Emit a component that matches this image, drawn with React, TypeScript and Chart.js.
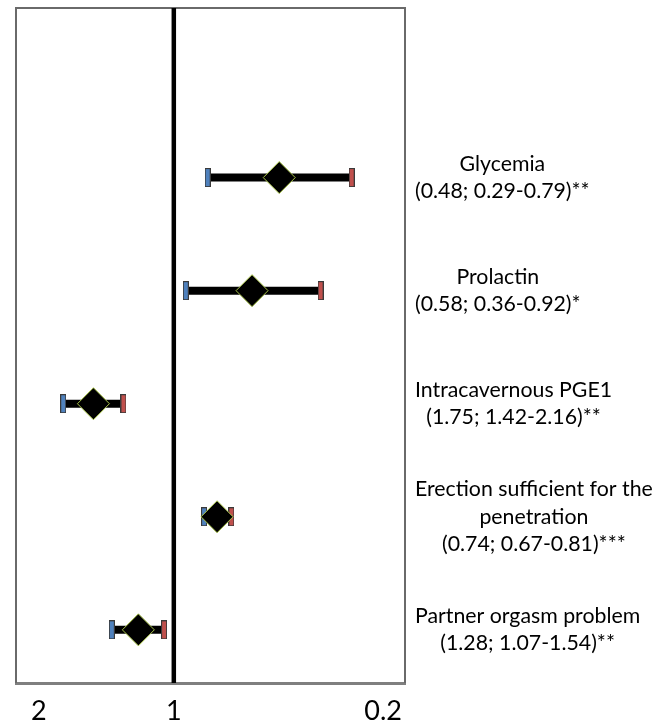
import { useEffect, useRef } from "react";
import { Chart, registerables } from "chart.js";

Chart.register(...registerables);

// ---- data ----
const nameLines: string[][] = [
  ["Glycemia"],
  ["Prolactin"],
  ["Intracavernous PGE1"],
  ["Erection sufficient for the", "penetration"],
  ["Partner orgasm problem"],
];
const oddsRatios = [0.48, 0.58, 1.75, 0.74, 1.28];
const lowerCI = [0.29, 0.36, 1.42, 0.67, 1.07];
const upperCI = [0.79, 0.92, 2.16, 0.81, 1.54];
const significance = ["**", "*", "**", "***", "**"];
const rowPositions = [5, 4, 3, 2, 1];
const xTickValues = [2.56, 1, 0.233];
const xTickLabels = ["2", "1", "0.2"];
const referenceValue = 1;

const X_MIN = 0.2;
const X_MAX = 3.0;
const Y_MIN = 0.53;
const Y_MAX = 6.5;

function makeCap(fill: string): HTMLCanvasElement {
  const c = document.createElement("canvas");
  c.width = 6;
  c.height = 19;
  const g = c.getContext("2d")!;
  g.fillStyle = "#3a3a3a";
  g.fillRect(0, 0, 6, 19);
  g.fillStyle = fill;
  g.fillRect(1, 1, 4, 17);
  return c;
}

const fmt = (v: number) => v.toFixed(2);

const framePlugin = {
  id: "frameAndLabels",
  beforeDatasetsDraw(chart: any) {
    const { ctx, chartArea } = chart;
    const { left, top, right, bottom } = chartArea;
    ctx.save();
    ctx.strokeStyle = "#6a6a6a";
    ctx.lineWidth = 2;
    ctx.beginPath();
    ctx.moveTo(left, bottom);
    ctx.lineTo(left, top);
    ctx.lineTo(right, top);
    ctx.lineTo(right, bottom);
    ctx.stroke();
    ctx.restore();
  },
  afterDraw(chart: any) {
    const { ctx, chartArea } = chart;
    const yScale = chart.scales.y;
    ctx.save();
    ctx.font = '21.3px "Lato"';
    ctx.fillStyle = "#000";
    ctx.textBaseline = "middle";
    ctx.textAlign = "center";
    const lh = 27.5;
    const x0 = chartArea.right + 10;
    nameLines.forEach((names, i) => {
      const lines = [
        ...names,
        `(${fmt(oddsRatios[i])}; ${fmt(lowerCI[i])}-${fmt(upperCI[i])})${significance[i]}`,
      ];
      const w = Math.max(...lines.map((l) => ctx.measureText(l).width));
      const cy = yScale.getPixelForValue(rowPositions[i]);
      const startY = cy - ((lines.length - 1) / 2) * lh;
      lines.forEach((l, j) => {
        ctx.fillText(l, x0 + w / 2, startY + j * lh);
      });
    });
    ctx.restore();
  },
};

export default function App() {
  const ref = useRef<HTMLCanvasElement | null>(null);

  useEffect(() => {
    if (!ref.current) return;
    const blueCap = makeCap("#4f81bd");
    const redCap = makeCap("#c0504d");

    const barSets = oddsRatios.map((_, i) => ({
      type: "scatter" as const,
      data: [
        { x: lowerCI[i], y: rowPositions[i] },
        { x: upperCI[i], y: rowPositions[i] },
      ],
      showLine: true,
      borderColor: "#000",
      borderWidth: 8,
      pointRadius: 0,
      order: 3,
    }));

    const chart = new Chart(ref.current, {
      type: "scatter",
      data: {
        datasets: [
          {
            data: oddsRatios.map((v, i) => ({ x: v, y: rowPositions[i] })),
            pointStyle: "rectRot",
            pointRadius: 16,
            backgroundColor: "#000",
            borderColor: "#a9c44a",
            borderWidth: 1,
            order: 1,
          },
          {
            data: upperCI.map((v, i) => ({ x: v, y: rowPositions[i] })),
            pointStyle: blueCap as any,
            order: 2,
          },
          {
            data: lowerCI.map((v, i) => ({ x: v, y: rowPositions[i] })),
            pointStyle: redCap as any,
            order: 2,
          },
          ...barSets,
          {
            data: [
              { x: referenceValue, y: Y_MIN },
              { x: referenceValue, y: Y_MAX },
            ],
            showLine: true,
            borderColor: "#000",
            borderWidth: 4.5,
            pointRadius: 0,
            order: 4,
          },
        ] as any,
      },
      options: {
        responsive: false,
        animation: false,
        layout: { autoPadding: false, padding: { left: 16, top: 8, right: 260, bottom: 0 } },
        plugins: {
          legend: { display: false },
          tooltip: { enabled: false },
        },
        scales: {
          x: {
            type: "logarithmic",
            reverse: true,
            min: X_MIN,
            max: X_MAX,
            grid: { display: false, drawTicks: false },
            border: { display: true, color: "#7f7f7f", width: 3 },
            afterBuildTicks: (scale: any) => {
              scale.ticks = xTickValues.map((v) => ({ value: v }));
            },
            afterFit: (scale: any) => {
              scale.height = 42;
            },
            ticks: {
              autoSkip: false,
              maxRotation: 0,
              padding: 12,
              color: "#000",
              font: { family: "Lato", size: 27 },
              callback: (_v: any, idx: number) => xTickLabels[idx],
            },
          },
          y: {
            type: "linear",
            display: false,
            min: Y_MIN,
            max: Y_MAX,
          },
        },
      },
      plugins: [framePlugin],
    });
    return () => chart.destroy();
  }, []);

  return (
    <div style={{ position: "absolute", left: 0, top: 0, width: 665, height: 725, background: "#fff" }}>
      <canvas ref={ref} width={665} height={725} style={{ display: "block" }} />
    </div>
  );
}
